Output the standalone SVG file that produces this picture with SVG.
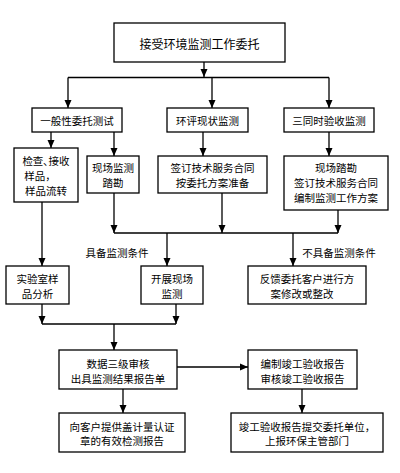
<svg xmlns="http://www.w3.org/2000/svg" width="400" height="473" viewBox="0 0 400 473">
<style>
.b{fill:#fff;stroke:#000;stroke-width:1.3}
.t{font-family:"Noto Sans CJK SC","Noto Sans",sans-serif;font-size:10.5px;fill:#000;text-anchor:middle;dominant-baseline:central}
.c{fill:none;stroke:#000;stroke-width:1.3}
</style>
<defs>
<marker id="a" viewBox="0 0 8 8" refX="8" refY="4" markerWidth="8" markerHeight="8" markerUnits="userSpaceOnUse" orient="auto">
<path d="M0,0.5 L8,4 L0,7.5 Z" fill="#000"/>
</marker>
</defs>
<rect width="400" height="473" fill="#fff"/>
<g id="connectors">
<path class="c" d="M204,62 V77" marker-end="url(#a)"/>
<path class="c" d="M68,77.5 H329"/>
<path class="c" d="M68,77.5 V108" marker-end="url(#a)"/>
<path class="c" d="M212,77.5 V108" marker-end="url(#a)"/>
<path class="c" d="M329,77.5 V108" marker-end="url(#a)"/>
<path class="c" d="M51,132 V148" marker-end="url(#a)"/>
<path class="c" d="M114,132 V156" marker-end="url(#a)"/>
<path class="c" d="M203,132 V156" marker-end="url(#a)"/>
<path class="c" d="M329,132 V156" marker-end="url(#a)"/>
<path class="c" d="M42,202 V266" marker-end="url(#a)"/>
<path class="c" d="M114,193 V233" marker-end="url(#a)"/>
<path class="c" d="M222,193 V233" marker-end="url(#a)"/>
<path class="c" d="M338,210 V233" marker-end="url(#a)"/>
<path class="c" d="M114,233 H338"/>
<path class="c" d="M167,233 V266" marker-end="url(#a)"/>
<path class="c" d="M293,233 V266" marker-end="url(#a)"/>
<path class="c" d="M42,304 V324" marker-end="url(#a)"/>
<path class="c" d="M176,304 V324" marker-end="url(#a)"/>
<path class="c" d="M42,324 H176"/>
<path class="c" d="M114,324 V350" marker-end="url(#a)"/>
<path class="c" d="M177,367 H248" marker-end="url(#a)"/>
<path class="c" d="M123,389 V413" marker-end="url(#a)"/>
<path class="c" d="M302,389 V413" marker-end="url(#a)"/>
<text class="t" x="117" y="252">具备监测条件</text>
<text class="t" x="339" y="252">不具备监测条件</text>
</g>
<g id="n1"><rect class="b" x="114" y="23" width="171" height="39"/><text class="t" x="199.5" y="43" style="font-size:12px">接受环境监测工作委托</text></g>
<g id="n2"><rect class="b" x="32" y="108" width="90" height="24"/><text class="t" x="77" y="120.5">一般性委托测试</text></g>
<g id="n3"><rect class="b" x="167" y="108" width="81" height="24"/><text class="t" x="207.5" y="120.5">环评现状监测</text></g>
<g id="n4"><rect class="b" x="284" y="108" width="90" height="24"/><text class="t" x="329" y="120.5">三同时验收监测</text></g>
<g id="n5"><rect class="b" x="14" y="148" width="64" height="54"/><text class="t" x="46" y="160">检查､接收</text><text class="t" x="40" y="175">样品，</text><text class="t" x="46" y="190">样品流转</text></g>
<g id="n6"><rect class="b" x="87" y="156" width="52" height="37"/><text class="t" x="113" y="167.5">现场监测</text><text class="t" x="113" y="182">踏勘</text></g>
<g id="n7"><rect class="b" x="158" y="156" width="109" height="37"/><text class="t" x="212.5" y="167.5">签订技术服务合同</text><text class="t" x="212.5" y="182">按委托方案准备</text></g>
<g id="n8"><rect class="b" x="284" y="156" width="104" height="54"/><text class="t" x="336" y="167.5">现场踏勘</text><text class="t" x="336" y="182">签订技术服务合同</text><text class="t" x="336" y="197">编制监测工作方案</text></g>
<g id="n9"><rect class="b" x="6" y="266" width="63" height="38"/><text class="t" x="37.5" y="278">实验室样</text><text class="t" x="37.5" y="293">品分析</text></g>
<g id="n10"><rect class="b" x="141" y="266" width="62" height="38"/><text class="t" x="172" y="278">开展现场</text><text class="t" x="172" y="293">监测</text></g>
<g id="n11"><rect class="b" x="248" y="266" width="118" height="38"/><text class="t" x="307" y="278">反馈委托客户进行方</text><text class="t" x="302" y="293">案修改或整改</text></g>
<g id="n12"><rect class="b" x="59" y="350" width="118" height="39"/><text class="t" x="118" y="363">数据三级审核</text><text class="t" x="118" y="378">出具监测结果报告单</text></g>
<g id="n13"><rect class="b" x="248" y="350" width="109" height="39"/><text class="t" x="302.5" y="363">编制竣工验收报告</text><text class="t" x="302.5" y="378">审核竣工验收报告</text></g>
<g id="n14"><rect class="b" x="59" y="413" width="126" height="39"/><text class="t" x="122" y="426">向客户提供盖计量认证</text><text class="t" x="122" y="440">章的有效检测报告</text></g>
<g id="n15"><rect class="b" x="231" y="413" width="152" height="39"/><text class="t" x="307" y="426">竣工验收报告提交委托单位，</text><text class="t" x="307" y="440">上报环保主管部门</text></g>
</svg>
